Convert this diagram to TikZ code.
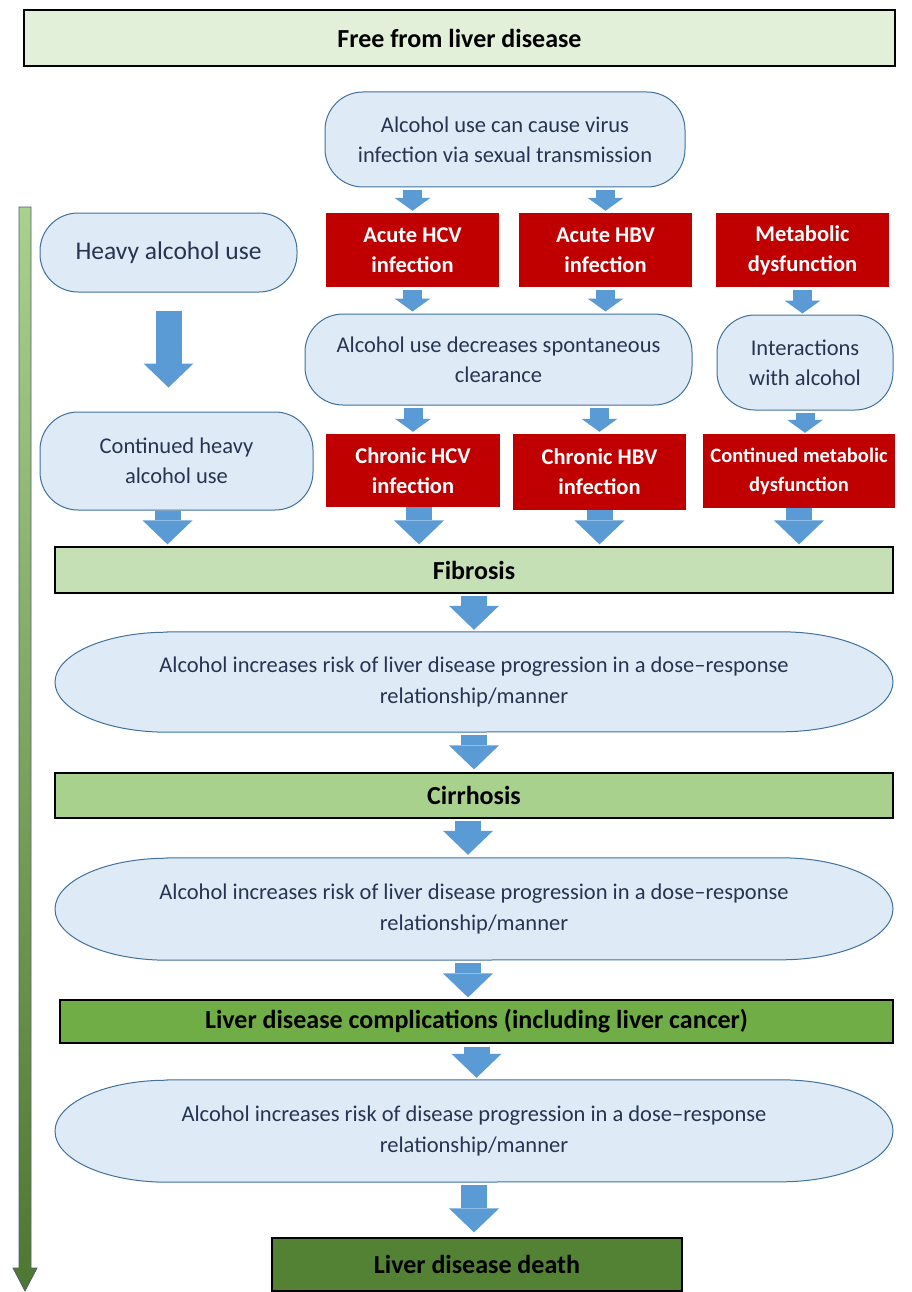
\documentclass[tikz,border=0pt]{standalone}
\usepackage{fontspec}
\setmainfont{Carlito}
\usetikzlibrary{arrows.meta,backgrounds,calc}

\definecolor{capfill}{RGB}{222,235,247}
\definecolor{capline}{RGB}{65,113,156}
\definecolor{captext}{RGB}{38,52,82}
\definecolor{infred}{RGB}{192,0,0}
\definecolor{arrblue}{RGB}{91,155,213}
\definecolor{stage0}{RGB}{226,239,217}
\definecolor{stage1}{RGB}{197,224,180}
\definecolor{stage2}{RGB}{169,209,142}
\definecolor{stage3}{RGB}{112,173,71}
\definecolor{stage4}{RGB}{84,130,53}

\tikzset{
  capsule/.style={draw=capline, fill=capfill, line width=1pt, rounded corners=38pt,
    inner sep=2pt, text=captext, align=center, font=\fontsize{22.5}{30}\selectfont},
  riskcap/.style={draw=capline, fill=capfill, line width=1pt},
  risktext/.style={inner sep=0pt, minimum height=100pt, text=captext, align=center,
    font=\fontsize{22.5}{31}\selectfont},
  infbox/.style={fill=infred, text=white, align=center, inner sep=2pt, minimum width=173pt,
    minimum height=74pt, font=\bfseries\fontsize{22.5}{30}\selectfont},
  stagebox/.style={draw=black, line width=1.2pt, minimum width=838pt,
    font=\bfseries\fontsize{26}{30}\selectfont},
  smallarr/.style={arrblue, line width=19pt, -{Triangle[width=36pt,length=13pt,line width=0pt]}},
  bigarr/.style={arrblue, line width=26pt, -{Triangle[width=50pt,length=24pt,line width=0pt]}},
}

\begin{document}
\begin{tikzpicture}[x=1pt,y=1pt]
\useasboundingbox (0,0) rectangle (911,-1292);

% time line on the left
\shade[top color=stage2, bottom color=stage4!92!black, draw=captext!80, line width=0.8pt]
  (19,-207) -- (31,-207) -- (31,-1268) -- (37,-1268) -- (25,-1291) -- (13,-1268) -- (19,-1268) -- cycle;

\node[stagebox, fill=stage0, minimum width=871pt, minimum height=56pt] (free) at (459.5,-38) {Free from liver disease};

\node[capsule, minimum width=360pt, minimum height=95pt] (virus) at (505,-139.5) {Alcohol use can cause virus\\infection via sexual transmission};

\node[capsule, minimum width=257pt, minimum height=79pt, font=\fontsize{25.5}{30}\selectfont] (heavy) at (168.5,-252.5) {Heavy alcohol use};
\node[infbox] (acuteC) at (412.5,-250) {Acute HCV\\infection};
\node[infbox] (acuteB) at (605.5,-250) {Acute HBV\\infection};
\node[infbox] (metab) at (802.5,-250) {Metabolic\\dysfunction};

\node[capsule, minimum width=387pt, minimum height=91pt] (clear) at (498.5,-359.5) {Alcohol use decreases spontaneous\\clearance};
\node[capsule, minimum width=176pt, minimum height=95pt] (interact) at (805,-362.5) {Interactions\\with alcohol};

\node[capsule, minimum width=273pt, minimum height=98pt] (contheavy) at (176.5,-461) {Continued heavy\\alcohol use};
\node[infbox, minimum width=174pt, minimum height=73pt] (chronC) at (413,-470.5) {Chronic HCV\\infection};
\node[infbox, minimum height=76pt] (chronB) at (599.5,-472) {Chronic HBV\\infection};
\node[infbox, minimum width=192pt, font=\bfseries\fontsize{20.5}{29}\selectfont] (contmet) at (799,-471) {Continued metabolic\\dysfunction};

\node[stagebox, fill=stage1, minimum height=46pt] (fib) at (474,-570) {Fibrosis};
\node[risktext] (risk1) at (474,-682) {Alcohol increases risk of liver disease progression in a dose--response\\relationship/manner};
\node[stagebox, fill=stage2, minimum height=45pt] (cirr) at (474,-795.5) {Cirrhosis};
\node[risktext, minimum height=102pt] (risk2) at (474,-909) {Alcohol increases risk of liver disease progression in a dose--response\\relationship/manner};
\node[stagebox, fill=stage3, minimum width=833pt, minimum height=43pt] (compl) at (476.5,-1021.5) {Liver disease complications (including liver cancer)};
\node[risktext, minimum height=102pt] (risk3) at (474,-1131) {Alcohol increases risk of disease progression in a dose--response\\relationship/manner};
\node[stagebox, fill=stage4, minimum width=410pt, minimum height=53pt] (death) at (477,-1264.5) {Liver disease death};

% long capsules behind the risk texts
\begin{scope}[on background layer]
\foreach \n/\r in {risk1/50,risk2/51,risk3/51}
  \filldraw[riskcap] ([xshift=-307pt]\n.north) -- ([xshift=307pt]\n.north)
    arc[start angle=90,end angle=-90,x radius=112,y radius=\r] -- ([xshift=-307pt]\n.south)
    arc[start angle=270,end angle=90,x radius=112,y radius=\r] -- cycle;
\end{scope}

% arrows
\draw[smallarr, shorten <=3pt, shorten >=2pt] (virus.south -| acuteC) -- (acuteC.north);
\draw[smallarr, shorten <=3pt, shorten >=2pt] (virus.south -| acuteB) -- (acuteB.north);
\draw[smallarr, shorten <=3pt, shorten >=2pt] (acuteC.south) -- (acuteC.south |- clear.north);
\draw[smallarr, shorten <=3pt, shorten >=2pt] (acuteB.south) -- (acuteB.south |- clear.north);
\draw[smallarr, shorten <=3pt, shorten >=1pt] (metab.south) -- (metab.south |- interact.north);
\draw[smallarr, shorten <=2pt, shorten >=2pt] (clear.south -| chronC) -- (chronC.north);
\draw[smallarr, shorten <=2pt, shorten >=2pt] (clear.south -| chronB) -- (chronB.north);
\draw[smallarr, shorten <=2pt, shorten >=1pt] (interact.south) -- (interact.south |- contmet.north);

\draw[bigarr, shorten <=18pt, shorten >=24pt] (heavy.south) -- (heavy.south |- contheavy.north);
\draw[bigarr, shorten >=2pt] ([xshift=-9pt]contheavy.south) -- ([xshift=-9pt]contheavy.south |- fib.north);
\draw[bigarr, shorten >=2pt] ([xshift=6pt]chronC.south) -- ([xshift=6pt]chronC.south |- fib.north);
\draw[bigarr, shorten >=2pt] (chronB.south) -- (chronB.south |- fib.north);
\draw[bigarr, shorten >=2pt] (contmet.south) -- (contmet.south |- fib.north);

\draw[bigarr, shorten <=2pt, shorten >=2pt] (fib.south) -- (fib.south |- risk1.north);
\draw[bigarr, shorten <=3pt, shorten >=3pt] (risk1.south) -- (risk1.south |- cirr.north);
\draw[bigarr, shorten <=2pt, shorten >=3pt] ([xshift=-6pt]cirr.south) -- ([xshift=-6pt]cirr.south |- risk2.north);
\draw[bigarr, shorten <=3pt, shorten >=2pt] ([xshift=-6pt]risk2.south) -- ([xshift=-6pt]risk2.south |- compl.north);
\draw[bigarr, shorten <=3pt, shorten >=2pt] (compl.south) -- (compl.south |- risk3.north);
\draw[bigarr, shorten <=3pt, shorten >=5pt] (risk3.south) -- (risk3.south |- death.north);
\end{tikzpicture}
\end{document}
